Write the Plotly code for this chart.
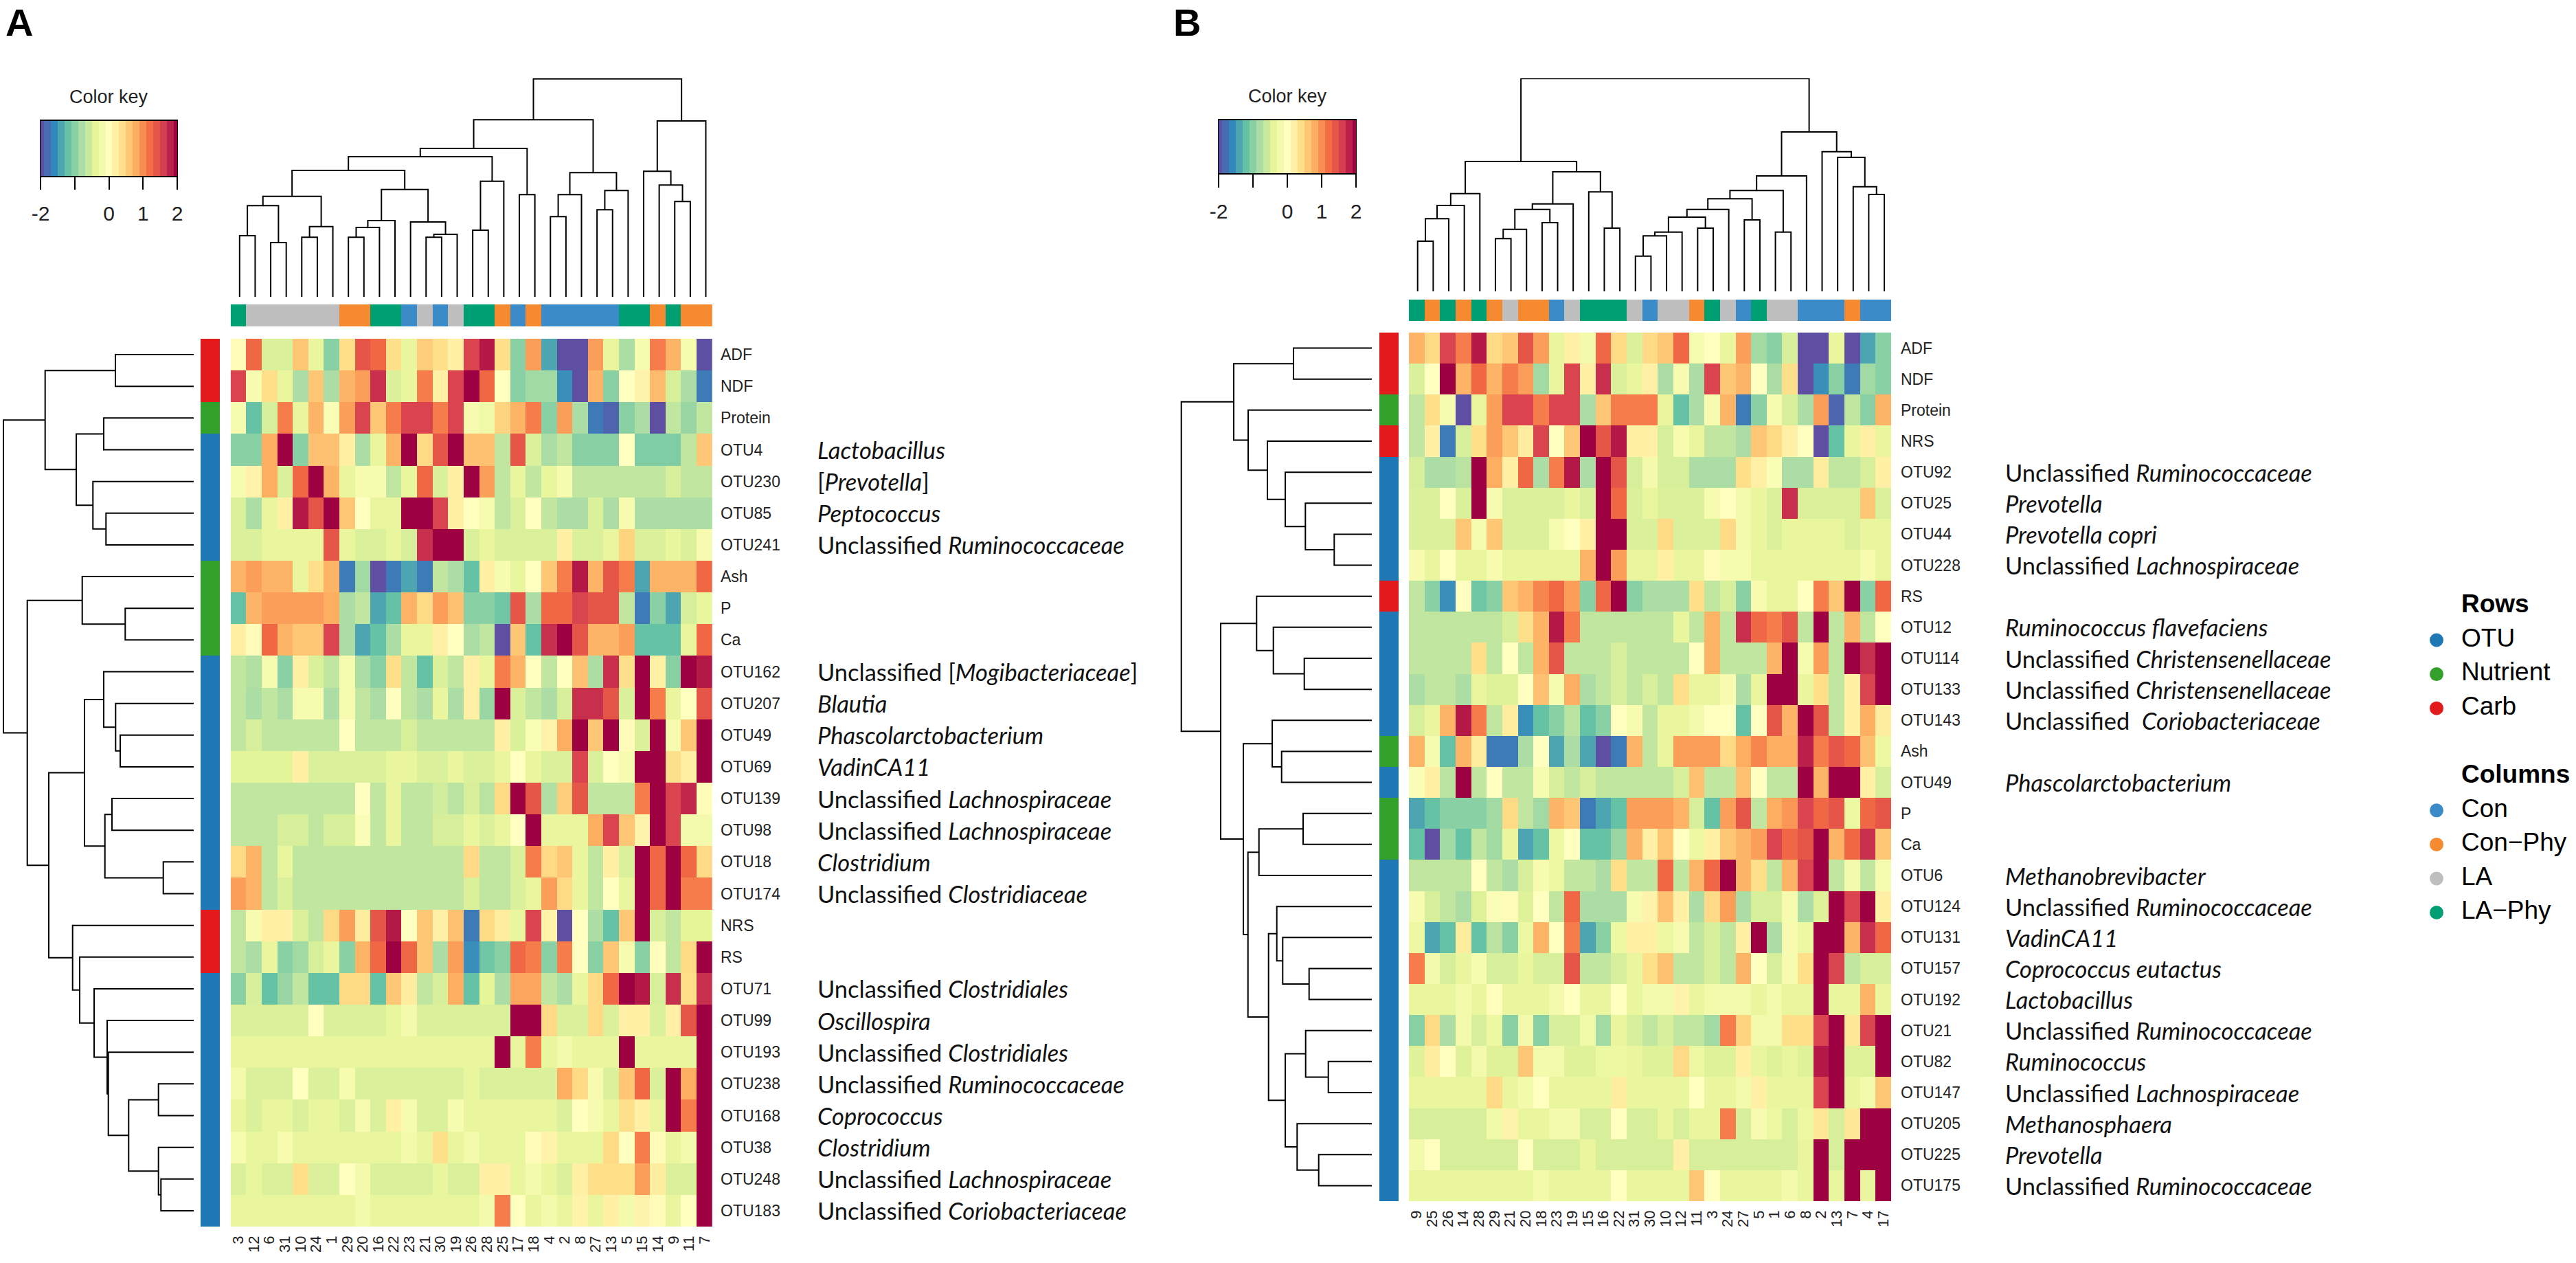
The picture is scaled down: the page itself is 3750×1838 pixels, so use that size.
import plotly.graph_objects as go

W, H = 3750, 1838

# ---------------- DATA ----------------
cols_A = ["3","12","6","31","10","24","1","29","20","16","22","23","21","30","19","26","28","25","17","18","4","2","8","27","13","5","15","14","9","11","7"]
cols_B = ["9","25","26","14","28","29","21","20","18","23","19","15","16","22","31","30","10","12","11","3","24","27","5","1","6","8","2","13","7","4","17"]

rows_A = ["ADF","NDF","Protein","OTU4","OTU230","OTU85","OTU241","Ash","P","Ca","OTU162","OTU207","OTU49","OTU69","OTU139","OTU98","OTU18","OTU174","NRS","RS","OTU71","OTU99","OTU193","OTU238","OTU168","OTU38","OTU248","OTU183"]
rows_B = ["ADF","NDF","Protein","NRS","OTU92","OTU25","OTU44","OTU228","RS","OTU12","OTU114","OTU133","OTU143","Ash","OTU49","P","Ca","OTU6","OTU124","OTU131","OTU157","OTU192","OTU21","OTU82","OTU147","OTU205","OTU225","OTU175"]

taxa_A = ["","","","<i>Lactobacillus</i>","[<i>Prevotella</i>]","<i>Peptococcus</i>","Unclassified <i>Ruminococcaceae</i>","","","",
          "Unclassified [<i>Mogibacteriaceae</i>]","<i>Blautia</i>","<i>Phascolarctobacterium</i>","<i>VadinCA11</i>","Unclassified <i>Lachnospiraceae</i>","Unclassified <i>Lachnospiraceae</i>","<i>Clostridium</i>","Unclassified <i>Clostridiaceae</i>","","",
          "Unclassified <i>Clostridiales</i>","<i>Oscillospira</i>","Unclassified <i>Clostridiales</i>","Unclassified <i>Ruminococcaceae</i>","<i>Coprococcus</i>","<i>Clostridium</i>","Unclassified <i>Lachnospiraceae</i>","Unclassified <i>Coriobacteriaceae</i>"]
taxa_B = ["","","","","Unclassified <i>Ruminococcaceae</i>","<i>Prevotella</i>","<i>Prevotella copri</i>","Unclassified <i>Lachnospiraceae</i>","",
          "<i>Ruminococcus flavefaciens</i>","Unclassified <i>Christensenellaceae</i>","Unclassified <i>Christensenellaceae</i>","Unclassified  <i>Coriobacteriaceae</i>","","<i>Phascolarctobacterium</i>","","",
          "<i>Methanobrevibacter</i>","Unclassified <i>Ruminococcaceae</i>","<i>VadinCA11</i>","<i>Coprococcus eutactus</i>","<i>Lactobacillus</i>","Unclassified <i>Ruminococcaceae</i>","<i>Ruminococcus</i>","Unclassified <i>Lachnospiraceae</i>","<i>Methanosphaera</i>","<i>Prevotella</i>","Unclassified <i>Ruminococcaceae</i>"]

row_group_A = ["Carb","Carb","Nutrient","OTU","OTU","OTU","OTU","Nutrient","Nutrient","Nutrient","OTU","OTU","OTU","OTU","OTU","OTU","OTU","OTU","Carb","Carb","OTU","OTU","OTU","OTU","OTU","OTU","OTU","OTU"]
row_group_B = ["Carb","Carb","Nutrient","Carb","OTU","OTU","OTU","OTU","Carb","OTU","OTU","OTU","OTU","Nutrient","OTU","Nutrient","Nutrient","OTU","OTU","OTU","OTU","OTU","OTU","OTU","OTU","OTU","OTU","OTU"]
col_group_A = ["LA-Phy","LA","LA","LA","LA","LA","LA","Con-Phy","Con-Phy","LA-Phy","LA-Phy","Con","LA","Con","LA","LA-Phy","LA-Phy","Con-Phy","Con","Con-Phy","Con","Con","Con","Con","Con","LA-Phy","LA-Phy","Con-Phy","LA-Phy","Con-Phy","Con-Phy"]
col_group_B = ["LA-Phy","Con-Phy","LA-Phy","Con-Phy","LA-Phy","Con-Phy","LA","Con-Phy","Con-Phy","Con","LA","LA-Phy","LA-Phy","LA-Phy","LA","Con","LA","LA","Con-Phy","LA-Phy","LA","Con","LA-Phy","LA","LA","Con","Con","Con","Con-Phy","Con","Con"]

z_A = [
[.05,1.25,-.48,-.48,.6,-.35,-1,.4,1.4,1.25,.4,-.35,.55,.4,.2,1.55,1.85,.4,-1,.9,-1.4,-2,-2,.9,-.35,-.8,-.15,1.1,.75,-.15,-2],
[1.55,-.15,.4,-.35,-.8,.6,-.8,.75,.9,1.7,-.48,-.35,1.1,.2,1.55,2,1.25,0,-1,-.85,-.85,-1.55,-2,.75,-1,0,.15,.7,-.5,-.8,-1.7],
[-.15,-1.2,-.5,1.1,-.35,.75,-.1,.9,1.55,.6,1.1,1.55,1.55,1.1,1.55,-.15,-.25,.5,.75,1.1,-1,.9,-.8,-1.7,-1.85,-1,-.8,-2,-.65,-.9,-.65],
[-1,-1,.8,2,-1,.65,.65,.2,-.8,-.35,.75,2,.45,1.4,2,.65,.65,-.65,1.4,-.48,-.8,-.65,-1,-1,-1,0,-1.05,-1.05,-1.05,-.65,.6],
[-.15,.15,.8,-.48,1.25,2,.75,-.35,-.15,-.15,-.65,-.35,1.25,-.48,.2,2,.9,-.65,-.35,-.65,-.35,-.15,-.65,-.65,-.65,-.65,-.65,-.65,-.5,-.65,-.65],
[-.48,-.8,-.35,.2,1.85,1.4,2,.6,0,-.35,-.35,2,2,1.55,.2,0,-.15,-.65,-.48,0,-.65,-.8,-.8,-.48,-.8,-.15,-.8,-.8,-.8,-.8,-.8],
[-.48,-.48,-.35,-.35,-.35,-.35,1.4,-.35,-.48,-.48,-.35,-.5,1.7,2,2,-.48,-.35,-.48,-.48,-.48,-.48,.2,-.48,-.48,-.35,.5,-.48,-.48,-.35,-.48,-.15],
[.75,.9,.75,.75,-.35,.4,.75,-1.7,-.85,-2,-1.7,-1.4,-1.7,-.65,-.8,-1.2,.2,-.15,-.35,0,.6,1.1,1.85,.75,1.4,1.1,-1.4,.75,.75,.75,1.25],
[-1.2,.75,.9,.9,.9,.9,.8,-.8,-.65,-1.4,-1.2,.75,.45,.9,.65,-1,-1,-1.15,1.4,-.8,1.25,1.25,1.55,1.4,1.4,-.65,-1.7,-1,-1.4,-.5,-.35],
[.2,.05,1.25,.75,.6,.6,1.55,-.8,-1.4,-1.2,-.8,-.35,-.35,.2,0,-.8,-.65,-2,.6,-1.2,1.7,2,1.4,.75,.75,.9,-1.2,-1.2,-1.2,-.35,1.25],
[-.65,-.75,-.15,-1,.2,-.48,-.65,-.15,-.8,-1,.4,-.65,-1.2,-.48,-.65,.2,-.35,1.1,.75,0,-.65,0,.65,-.8,1.7,.4,2,.2,-1,2,1.85],
[-.65,-.8,-.65,-.8,-.15,-.15,-.8,-.15,-.65,-.8,0,-.65,-.8,-.35,-.8,.2,-.9,2,-.48,-.65,-.8,-.5,1.7,1.7,1.4,-.48,2,1.1,-.35,0,1.4],
[-.65,-.5,-.65,-.65,-.65,-.65,-.65,0,-.65,-.65,-.65,-.5,-.65,-.65,-.65,-.65,-.65,.2,-.48,-.1,.15,.8,2,.6,2,.05,-.48,2,-.15,.6,2],
[-.42,-.42,-.42,-.42,.2,-.48,-.48,-.48,-.48,-.48,-.35,-.35,-.48,-.48,-.35,-.48,-.48,-.35,0,-.35,-.48,-.48,1.55,-.48,0,-.15,2,2,.4,.2,2],
[-.65,-.65,-.65,-.65,-.65,-.65,-.65,-.65,0,-.65,-.35,-.65,-.65,-.55,-.7,-.5,-.7,.45,2,1.4,-.75,.55,1.4,-.65,-.65,-.65,1.1,2,1.55,1.75,.05],
[-.65,-.65,-.65,-.5,-.5,-.65,-.5,-.5,-.1,-.65,-.35,-.65,-.65,-.5,-.5,-.35,-.48,-.35,0,2,-.35,-.35,-.35,.8,1.55,.6,.15,2,1.55,-.2,-.2],
[.45,.75,-.65,-.35,-.65,-.65,-.65,-.65,-.65,-.65,-.65,-.65,-.65,-.65,-.65,.45,-.65,-.65,-.48,1.1,.45,.6,-.35,-.65,.2,-.48,2,1.25,2,1.25,.45],
[.9,.75,-.65,-.48,-.65,-.65,-.65,-.65,-.65,-.65,-.65,-.65,-.65,-.65,-.65,-.48,-.65,-.65,-.48,-.35,.9,.45,-.35,-.65,0,-.35,2,1.25,2,1.1,1.1],
[-.65,-.15,.2,.2,-.48,-.65,.45,.9,.25,1.4,1.85,0,.6,.2,.65,-1.7,.45,.25,-.35,1.55,.15,-2,0,-.8,-1.2,.6,2,-.5,-.65,-.4,-.4],
[-.65,-.8,-.35,-1,-.85,-.5,-.35,-1,.75,1.25,2,1.25,.6,-.8,.9,-1.55,-1.15,-1,1.25,1.1,-1,1.1,0,-1,.6,-.15,-1,.02,-.65,.45,2],
[-1,-.5,-1.2,-.9,-.65,-1.2,-1.2,.45,.45,-1.2,.6,.25,-.65,-.5,.8,-1.2,-.4,-.8,.85,.85,-.65,-.8,-.35,.45,1.25,2,1.85,-.5,1.7,.4,1.7],
[-.48,-.48,-.48,-.48,-.48,0,-.48,-.48,-.48,-.48,-.35,-.2,-.48,-.48,-.48,-.48,-.48,-.48,2,2,.45,-.48,-.48,.45,-.48,.2,.2,-.48,.2,1.4,2],
[-.35,-.35,-.35,-.35,-.35,-.35,-.35,-.35,-.35,-.35,-.35,-.35,-.35,-.35,-.35,-.35,-.35,2,-.35,1.1,-.35,-.2,-.35,-.35,-.35,2,-.35,-.35,-.35,-.35,2],
[-.2,-.48,-.48,-.48,0,-.48,-.48,-.15,-.48,-.48,-.48,-.48,-.48,-.48,-.48,-.35,-.48,-.48,-.48,-.48,-.48,.8,.45,-.15,-.48,.6,1.25,-.48,2,.8,2],
[-.35,-.48,-.35,-.35,-.48,-.35,-.35,-.48,-.15,-.48,.2,-.15,-.48,-.48,-.15,-.35,-.35,-.35,-.35,-.35,-.35,-.48,0,-.15,-.35,.4,.2,-.35,2,1.1,2],
[-.15,-.35,-.35,-.15,-.35,-.35,-.35,-.35,-.35,-.35,-.35,-.2,-.35,.4,-.35,-.2,-.35,-.35,-.35,.05,.15,-.35,-.35,-.35,.45,0,1.1,.05,-.35,-.2,2],
[-.48,-.35,-.48,-.48,.4,-.48,-.48,0,-.2,-.48,-.48,-.48,-.48,-.35,-.48,-.48,.2,.2,-.35,-.2,-.35,-.48,.2,.4,.4,.4,.9,.25,-.48,-.48,2],
[-.35,-.35,-.35,-.35,-.35,-.35,-.35,-.35,-.2,-.35,-.35,-.35,-.35,-.35,-.35,-.35,-.2,1.1,0,-.35,-.2,-.35,.15,-.35,.2,-.2,.15,.05,-.35,0,2],
]

z_B = [
[.75,.45,1.55,1.1,1.85,.45,.6,1.4,.9,-.35,.2,-.2,1.25,.45,-.48,.45,.6,1.25,-.15,0,-.35,.9,-.85,-1,-.5,-2,-2,-.35,-2,-1.4,-1],
[-.48,0,2,.75,1.25,.75,1.1,.9,-.85,-.35,1.55,.2,1.7,-.48,-.35,.2,-.8,-.15,-.8,1.55,.6,.75,0,-.8,.4,-2,-1.55,-1,-1.7,-.85,-1],
[-.65,.4,-.15,-2,-.35,.9,1.55,1.55,1.1,1.55,1.55,-.8,.6,1.1,1.1,1.1,-.35,-1.2,-.8,-.15,.75,-1.7,-1,-.15,-.5,-.8,.9,-1.85,-.65,-1,.75],
[-.65,.2,-1.7,-.5,.4,.9,.6,.25,1.55,0,.6,2,1.4,1.85,.2,.2,-.5,-.15,-.35,-.65,-.65,-.8,.6,.45,.2,0,-2,-1.2,-.35,.2,-.35],
[-.5,-.8,-.8,-.7,2,.8,.2,1.25,-.8,1.1,1.85,-.8,2,1.4,-.5,-.2,-.5,-.5,-.8,-.8,-.8,.4,.2,-.1,-.8,-.8,.25,-.65,-.65,-.5,.2],
[-.48,-.48,0,-.48,2,-.15,-.48,-.48,-.48,-.48,-.35,-.48,2,1.25,-.48,-.35,-.48,-.48,-.48,-.15,0,-.2,-.35,-.48,1.7,-.48,-.48,-.48,-.48,.6,-.48],
[-.48,-.48,-.48,.6,-.15,.6,-.48,-.48,-.48,-.15,0,.2,2,2,-.48,-.48,.45,-.48,-.48,-.48,.45,-.2,-.35,-.48,-.35,-.35,-.35,-.35,-.48,-.35,-.35],
[-.15,-.35,0,-.35,-.35,-.15,-.35,-.35,-.35,-.35,-.35,.75,2,.9,-.35,-.35,.2,-.35,-.35,.05,-.15,-.15,-.35,-.35,-.35,-.35,-.35,-.35,-.35,-.15,-.35],
[-.65,-1,-1.55,0,-1.15,-1,.6,.75,1.05,1.25,.9,-1,1.25,2,-1,-.8,-.8,-.8,.4,-.65,-.5,-1,-.15,-.35,-.35,0,1.1,.6,2,-1,1.25],
[-.65,-.65,-.65,-.65,-.65,-.65,-.5,.4,.75,1.85,1.1,-.65,-.65,-.65,-.65,-.65,-.65,-.35,-.65,.75,-.65,1.7,1.25,1.1,1.4,-.65,2,-.65,.75,-.65,0],
[-.65,-.65,-.65,-.65,.4,-.65,0,-.65,.75,1.4,-.65,-.65,-.65,-.5,-.65,-.65,-.65,-.65,0,.75,-.65,-.65,-.65,.75,2,-.15,.9,-.65,2,1.7,2],
[-.8,-.65,-.65,-.8,-.35,-.45,-.45,0,.65,-.15,.8,-.8,-.65,-.5,-.65,-.5,-.65,.4,-.35,-.35,-.15,-.8,-.35,2,2,-.35,.4,-.65,.2,1.55,2],
[-.5,-.35,.75,1.85,1.1,-.65,.25,-1.55,-1.2,-1,-.7,-1.2,-1,0,-.15,-.65,-.35,-.35,-.2,0,0,-1.2,0,1.4,.75,2,1.4,-.65,.2,.8,.25],
[.75,-.15,-1.2,.75,.25,-1.7,-1.7,-.8,0,-1.4,-.8,-1.4,-2,-1.7,.75,-.65,-.35,.9,.9,.9,.45,.8,1.05,.8,.8,1.8,1.1,1.4,1.25,.65,-.3],
[-.1,.2,-.7,2,-.65,0,-.65,-.65,-.15,-.5,-.65,-.5,-.65,-.65,-.65,-.65,-.65,-.5,.65,-.65,-.65,.65,0,-.65,-.65,2,.75,2,2,.2,-.5],
[-1.4,-1.2,-1,-1,-1,-.85,.45,-.65,-.85,.75,.6,-1.7,-1.4,-1.2,.9,.9,.9,.75,-.5,-1.2,.9,1.4,-.65,.8,.95,1.55,1.25,1.4,-.3,1.25,1.4],
[-1.2,-2,-.85,-1.2,-.65,-.85,-.35,-1.4,-1.2,-.3,0,-1.2,-1.2,-.9,.75,.2,.6,0,-.3,.2,.6,.75,.9,1.55,1.25,1.4,2,.75,1.25,1.7,.6],
[-.65,-.65,-.65,-.65,0,-.65,-.8,-.5,-.15,-.3,-.65,-.65,-.8,.4,-.65,-.65,1.25,-.65,.75,1.25,2,.75,.4,-.65,.75,1.55,2,-.65,-.2,-.65,-.15],
[-.15,-.5,-.65,-.8,-.45,-.1,.05,-.45,0,-.65,1.25,-.8,-.8,-.8,-.15,.15,.65,.2,-.8,.45,.9,-.8,-.5,-.5,-.15,-.8,-.45,2,1.55,2,.2],
[-.3,-1.4,-1.2,.25,-1.2,-.7,-1,-.3,.75,0,1.1,-1.4,-1,-.3,.2,.2,-.3,-.15,-.65,-.5,-.65,.2,2,-.8,-.15,-.3,2,2,.75,1.7,1.25],
[1.1,-.2,-.5,-.35,-.15,-.5,-.5,-.35,-.5,-.5,1.4,-.65,-.65,-.5,-.35,.4,.65,-.65,-.65,-.5,-.65,.75,0,-.5,-.15,.4,2,1.55,-.65,-.5,-.5],
[-.35,-.35,-.35,-.2,-.35,.02,-.35,-.35,-.35,-.2,0,-.35,-.35,0,-.35,-.2,-.2,.15,-.35,-.2,-.2,-.2,-.35,-.2,-.35,-.35,2,-.35,-.35,.75,-.35],
[-1,.45,-.8,-.2,-.5,-.3,-1,-.2,-1,-.5,-.5,-.25,-.85,-.35,-.5,-.65,-.5,-.65,-.65,-.85,1.1,.5,-.2,-.2,.4,.4,1.55,2,.3,1.55,2],
[-.45,.25,0,-.45,-.2,-.45,-.45,.6,-.2,-.2,-.45,-.45,-.3,-.3,-.35,-.45,-.45,.45,-.3,-.45,-.45,.2,-.35,-.45,-.35,-.45,1.85,2,-.45,-.45,2],
[-.35,-.35,-.35,-.35,-.35,.45,-.35,-.2,0,-.35,-.35,-.35,-.35,.25,-.35,-.35,-.35,-.35,0,-.35,-.35,-.2,.2,-.35,-.35,-.35,1.55,2,-.35,-.2,.6],
[-.5,-.5,-.5,-.5,-.5,-.25,.15,-.35,-.35,-.2,-.2,-.5,-.5,0,-.5,-.5,-.35,-.5,-.35,-.35,1.1,-.5,-.15,-.3,-.5,-.3,.3,-.5,.3,2,2],
[-.2,0,-.5,-.5,-.5,-.5,-.5,0,-.5,-.5,-.5,-.35,-.5,-.5,-.5,-.5,-.5,.2,-.5,-.5,-.5,-.5,-.5,-.5,-.5,-.35,2,-.5,2,2,2],
[-.35,-.35,-.35,-.35,-.35,-.35,-.35,-.35,-.2,-.35,-.35,-.35,-.35,0,-.35,-.35,-.35,-.35,.6,0,-.35,-.35,-.35,-.35,-.2,-.35,2,-.35,2,-.35,2],
]
for m in (z_A, z_B):
    assert len(m) == 28
    for i, r in enumerate(m):
        assert len(r) == 31, (i, len(r))

# hclust-style merges: negative = leaf number, positive = earlier merge number; third item = height
dend_top_A = [(-1,-2,89),(-3,-4,79),(1,2,132.7),(-5,-6,86.7),(4,-7,102.3),(3,5,146.3),(-8,-9,86.7),(7,-10,101),(8,-11,111),(-13,-14,86.7),
              (10,-15,91),(-12,11,109),(9,12,156.3),(6,13,184),(-16,-17,97),(15,-18,168.3),(14,16,204),(-19,-20,148.7),(17,18,216),(-21,-22,116.7),
              (20,-23,148.7),(-24,-25,126.7),(22,-26,154.7),(21,23,180.7),(19,24,257.7),(-29,-30,138.7),(-28,26,162.7),(-27,27,182.7),(28,-31,256),(25,29,317.3)]
dend_top_B = [(-1,-2,73),(1,-3,105.7),(2,-4,125),(3,-5,142.3),(-6,-7,76.7),(5,-8,90.3),(-9,-10,100),(6,7,119.3),(8,-11,127.3),(-13,-14,92),
              (-12,10,144.7),(9,11,174),(4,12,189),(-15,-16,51.3),(14,-17,80.7),(15,-18,86.3),(-19,-20,92),(16,17,108),(18,-21,119.3),(-22,-23,104),
              (19,20,134.7),(-24,-25,86.3),(21,22,146.7),(23,-26,168),(-30,-31,141),(-29,25,152.3),(-28,26,195),(-27,27,203.3),(24,28,232),(13,29,309.7)]
dend_left_A = [(-1,-2,114),(-3,-4,131),(-6,-7,127.7),(-5,3,146.7),(2,4,171),(1,5,216.3),(-9,-10,99.7),(-8,7,162.3),(-13,-14,107),(-12,9,113.7),
               (-11,10,131),(-15,-16,119),(-17,-18,44.3),(12,13,129.3),(11,14,159),(-24,-25,51.3),(-27,-28,47.7),(-26,17,51.3),(16,18,94.7),(-23,19,124.3),
               (-22,20,126),(-21,21,145),(-20,22,166),(-19,23,176.3),(15,24,211),(8,25,242.3),(6,26,277)]
dend_left_B = [(-1,-2,114),(-7,-8,54.7),(-6,2,96.7),(-5,3,126),(-4,4,152),(-3,5,180),(1,6,201),(-11,-12,98.3),(-10,8,143.3),(-9,9,167.7),
               (-14,-15,131.3),(-13,11,145),(-16,-17,100),(13,-18,164.3),(-21,-22,91.3),(-20,15,129.7),(-19,16,138.3),(-24,-25,63.3),(-23,18,96.3),(-27,-28,77.3),
               (-26,20,108.7),(19,21,126),(17,22,150.3),(14,23,180.3),(12,24,187),(10,25,220),(7,26,277.3)]

key_levels = [-2,-1.8,-1.6,-1.4,-1.2,-1,-.8,-.6,-.4,-.2,0,.2,.4,.6,.8,1,1.2,1.4,1.6,1.8,2]
key_ticks = [-2,-1,0,1,2]
key_ticktext = ["-2","","0","1","2"]

row_names = ["OTU","Nutrient","Carb"]
row_colors = ["#1F78B4","#33A02C","#E31A1C"]
col_names = ["Con","Con-Phy","LA","LA-Phy"]
col_colors = ["#3B8BC9","#F58A31","#BEBEBE","#009F73"]
spectral = ["#5E4FA2","#3288BD","#66C2A5","#ABDDA4","#E6F598","#FFFFBF","#FEE08B","#FDAE61","#F46D43","#D53E4F","#9E0142"]

legend_titles = ["Rows", "Columns"]
legend_title_slots = [0, 5]
legend_row_slots = [1, 2, 3]
legend_col_slots = [6, 7, 8, 9]

# ---------------- HELPERS ----------------
FONT = "Liberation Sans"
TAXA_FONT = "Lato"
scale = [[i/10, c] for i, c in enumerate(spectral)]
fig = go.Figure()
layout = {}
axis_no = [0]

def px_dom_x(a, b): return [a/W, b/W]
def px_dom_y(a, b): return [1-b/H, 1-a/H]

def new_axes(xbox, ybox, xkw=None, ykw=None):
    axis_no[0] += 1
    n = axis_no[0]
    base = dict(showgrid=False, zeroline=False, showticklabels=False, ticks="", showline=False)
    xa = dict(base); xa.update(domain=px_dom_x(*xbox), anchor=f"y{n}")
    ya = dict(base); ya.update(domain=px_dom_y(*ybox), anchor=f"x{n}")
    xa.update(xkw or {}); ya.update(ykw or {})
    s = "" if n == 1 else str(n)
    layout[f"xaxis{s}"] = xa
    layout[f"yaxis{s}"] = ya
    return ("x" if n == 1 else f"x{n}"), ("y" if n == 1 else f"y{n}")

def dendro_lines(merges, n_leaves):
    pos = {}
    a, b = [], []
    for k, (l, r, h) in enumerate(merges, 1):
        def get(c):
            return (-c-1, 0.0) if c < 0 else pos[c]
        pl, hl = get(l)
        pr, hr = get(r)
        a += [pl, pl, pr, pr, None]
        b += [hl, h, h, hr, None]
        pos[k] = ((pl+pr)/2, h)
    return a, b

annotations = []

def panel(cols, rows, z, taxa, row_group, col_group, dtop, dleft, letter, letter_x,
          hx, hy, cby, rbx, top_box_y, top_shift, left_leaf, key_x, key_y, key_tick_end, key_title_y, tax_x, lab_off):
    n_r, n_c = len(rows), len(cols)
    xr = [-.5, n_c-.5]; yr = [n_r-.5, -.5]
    # main heatmap
    xa, ya = new_axes(hx, hy,
        dict(range=xr, tickmode="array", tickvals=list(range(n_c)), ticktext=cols, showticklabels=True, tickangle=-90,
             tickfont=dict(family=FONT, size=22, color="#222"), ticklabelstandoff=8, automargin=False),
        dict(range=yr, tickmode="array", tickvals=list(range(n_r)), ticktext=rows, showticklabels=True, side="right",
             tickfont=dict(family=FONT, size=23, color="#222"), ticklabelstandoff=lab_off, automargin=False))
    fig.add_trace(go.Heatmap(z=z, x=list(range(n_c)), y=list(range(n_r)), colorscale=scale, zmin=-2, zmax=2, showscale=False, hoverinfo="skip", xaxis=xa, yaxis=ya))
    main_y = ya
    for i, t in enumerate(taxa):
        if t:
            annotations.append(dict(text=t, x=tax_x/W, xref="paper", y=i, yref=main_y, xanchor="left", yanchor="middle", showarrow=False,
                                    font=dict(family=TAXA_FONT, size=34.5, color="#111")))
    # column colour bar
    xa, ya = new_axes(hx, cby, dict(range=xr), dict(range=[0, 1]))
    fig.add_trace(go.Heatmap(z=[[col_names.index(g) for g in col_group]], x=list(range(n_c)), y=[.5],
                             colorscale=[[i/3, c] for i, c in enumerate(col_colors)], zmin=0, zmax=3, showscale=False, hoverinfo="skip", xaxis=xa, yaxis=ya))
    # row colour bar
    xa, ya = new_axes(rbx, hy, dict(range=[0, 1]), dict(range=yr))
    fig.add_trace(go.Heatmap(z=[[row_names.index(g)] for g in row_group], x=[.5], y=list(range(n_r)),
                             colorscale=[[i/2, c] for i, c in enumerate(row_colors)], zmin=0, zmax=2, showscale=False, hoverinfo="skip", xaxis=xa, yaxis=ya))
    # top dendrogram
    xa, ya = new_axes((hx[0]+top_shift, hx[1]+top_shift), top_box_y, dict(range=xr), dict(range=[0, top_box_y[1]-top_box_y[0]]))
    p, h = dendro_lines(dtop, n_c)
    fig.add_trace(go.Scatter(x=p, y=h, mode="lines", line=dict(color="black", width=2), hoverinfo="skip", showlegend=False, xaxis=xa, yaxis=ya, cliponaxis=False))
    # left dendrogram
    xa, ya = new_axes((left_leaf-280, left_leaf), hy, dict(range=[280, 0]), dict(range=yr))
    p, h = dendro_lines(dleft, n_r)
    fig.add_trace(go.Scatter(x=h, y=p, mode="lines", line=dict(color="black", width=2), hoverinfo="skip", showlegend=False, xaxis=xa, yaxis=ya, cliponaxis=False))
    # colour key
    xa, ya = new_axes(key_x, key_y,
        dict(range=[-2, 2], tickmode="array", tickvals=key_ticks, ticktext=key_ticktext, ticks="outside", ticklen=key_tick_end-key_y[1],
             tickcolor="black", tickwidth=2, showticklabels=True, tickfont=dict(family=FONT, size=30, color="#222"), ticklabelstandoff=9,
             tickangle=0, showline=True, linecolor="black", linewidth=2, mirror=True, automargin=False),
        dict(range=[0, 1], showline=True, linecolor="black", linewidth=1, mirror=True))
    fig.add_trace(go.Heatmap(z=[key_levels], x=key_levels, y=[.5], colorscale=scale, zmin=-2, zmax=2, showscale=False, hoverinfo="skip", xaxis=xa, yaxis=ya))
    annotations.append(dict(text="Color key", x=(key_x[0]+key_x[1])/2/W, xref="paper", y=1-key_title_y/H, yref="paper", xanchor="center", yanchor="middle",
                            showarrow=False, font=dict(family=FONT, size=27, color="#222")))
    annotations.append(dict(text=f"<b>{letter}</b>", x=letter_x/W, xref="paper", y=1-32/H, yref="paper", xanchor="left", yanchor="middle",
                            showarrow=False, font=dict(family=FONT, size=56, color="black")))

panel(cols_A, rows_A, z_A, taxa_A, row_group_A, col_group_A, dend_top_A, dend_left_A, "A", 6,
      (335.7, 1037), (493, 1785), (443, 475), (292, 320), (114, 432), 1.8, 282,
      (59, 258), (176, 256), 274, 141, 1188, 11)
panel(cols_B, rows_B, z_B, taxa_B, row_group_B, col_group_B, dend_top_B, dend_left_B, "B", 1706,
      (2051, 2753), (484, 1748), (436, 467), (2008, 2036), (114, 424), 1.4, 1997,
      (1774, 1974), (175, 252), 271, 140, 2917, 13)

# legend block on its own axes: column 0 holds the dots, column 1 the labels
lx, ly = new_axes((3547, 3750), (857.2, 1352.8), dict(range=[0, 203/36]), dict(range=[9.5, -0.5]))
fig.add_trace(go.Scatter(x=[0]*3, y=legend_row_slots, mode="markers", marker=dict(color=row_colors, size=20), hoverinfo="skip", showlegend=False, xaxis=lx, yaxis=ly, cliponaxis=False))
fig.add_trace(go.Scatter(x=[0]*4, y=legend_col_slots, mode="markers", marker=dict(color=col_colors, size=20), hoverinfo="skip", showlegend=False, xaxis=lx, yaxis=ly, cliponaxis=False))
fig.add_trace(go.Scatter(x=[1]*3, y=legend_row_slots, mode="text", text=row_names, textposition="middle right", textfont=dict(family=FONT, size=37, color="black"),
                         hoverinfo="skip", showlegend=False, xaxis=lx, yaxis=ly, cliponaxis=False))
fig.add_trace(go.Scatter(x=[1]*4, y=legend_col_slots, mode="text", text=[n.replace("-", "\u2212") for n in col_names], textposition="middle right",
                         textfont=dict(family=FONT, size=37, color="black"), hoverinfo="skip", showlegend=False, xaxis=lx, yaxis=ly, cliponaxis=False))
fig.add_trace(go.Scatter(x=[1]*2, y=legend_title_slots, mode="text", text=[f"<b>{t}</b>" for t in legend_titles], textposition="middle right",
                         textfont=dict(family=FONT, size=37, color="black"), hoverinfo="skip", showlegend=False, xaxis=lx, yaxis=ly, cliponaxis=False))

fig.update_layout(width=W, height=H, margin=dict(l=0, r=0, t=0, b=0), paper_bgcolor="white", plot_bgcolor="white",
                  showlegend=False, annotations=annotations, **layout)
fig.write_html("out.html", config=dict(displayModeBar=False), post_script="document.body.style.margin='0';document.body.style.overflow='hidden';")
